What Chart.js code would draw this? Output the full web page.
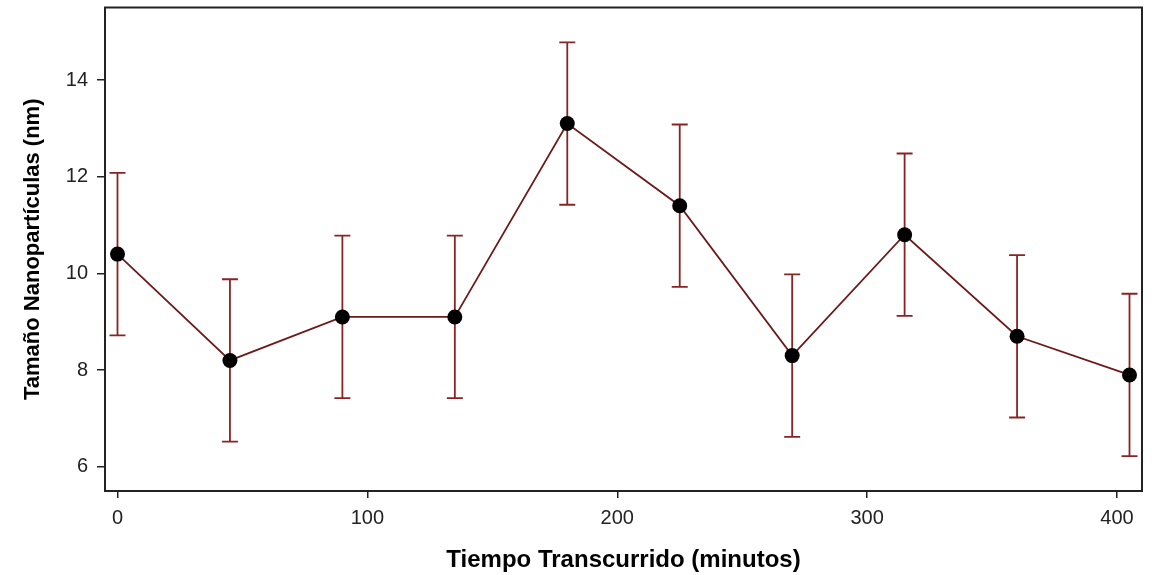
<!DOCTYPE html>
<html>
<head>
<meta charset="utf-8">
<script src="https://cdn.jsdelivr.net/npm/chart.js@4.4.1/dist/chart.umd.min.js"></script>
<style>
  html, body { margin: 0; padding: 0; background: #fff; }
  canvas { display: block; }
</style>
</head>
<body>
<canvas id="c" width="1152" height="575"></canvas>
<script>
// Elapsed time (minutes) and mean nanoparticle size (nm) with its error
const tiempos = [0, 45, 90, 135, 180, 225, 270, 315, 360, 405];
const tamanos = [10.4, 8.2, 9.1, 9.1, 13.1, 11.4, 8.3, 10.8, 8.7, 7.9];
const errores = [1.68, 1.68, 1.68, 1.68, 1.68, 1.68, 1.68, 1.68, 1.68, 1.68];
const xTicks = [0, 100, 200, 300, 400];
const yTicks = [6, 8, 10, 12, 14];

const FONT = '"Liberation Sans", Arial, Helvetica, sans-serif';
const LINE_COLOR = '#6e1a1a';
const ERR_COLOR = '#8a2424';

// Vertical error bars with caps, drawn under the points
const errorBars = {
  id: 'errorBars',
  beforeDatasetsDraw(chart) {
    const { ctx, scales: { x, y } } = chart;
    const cap = 8;
    ctx.save();
    ctx.strokeStyle = ERR_COLOR;
    ctx.lineWidth = 1.8;
    tiempos.forEach((t, i) => {
      const px = x.getPixelForValue(t);
      const top = y.getPixelForValue(tamanos[i] + errores[i]);
      const bot = y.getPixelForValue(tamanos[i] - errores[i]);
      ctx.beginPath();
      ctx.moveTo(px, top); ctx.lineTo(px, bot);
      ctx.moveTo(px - cap, top); ctx.lineTo(px + cap, top);
      ctx.moveTo(px - cap, bot); ctx.lineTo(px + cap, bot);
      ctx.stroke();
    });
    ctx.restore();
  }
};

// Frame around the plotting region
const frame = {
  id: 'frame',
  beforeDatasetsDraw(chart) {
    const { ctx, chartArea: a } = chart;
    ctx.save();
    ctx.strokeStyle = '#222';
    ctx.lineWidth = 2;
    ctx.strokeRect(a.left, a.top, a.right - a.left, a.bottom - a.top);
    ctx.restore();
  }
};

new Chart(document.getElementById('c'), {
  type: 'line',
  data: {
    datasets: [{
      data: tiempos.map((t, i) => ({ x: t, y: tamanos[i] })),
      borderColor: LINE_COLOR,
      borderWidth: 1.8,
      pointRadius: 7.5,
      pointBackgroundColor: '#000',
      pointBorderColor: '#000',
      pointBorderWidth: 0,
      tension: 0,
      fill: false
    }]
  },
  options: {
    responsive: false,
    animation: false,
    layout: { padding: { left: 20, top: 7, right: 10, bottom: 0 } },
    plugins: { legend: { display: false }, tooltip: { enabled: false } },
    scales: {
      x: {
        type: 'linear',
        min: -5,
        max: 410,
        afterBuildTicks(s) { s.ticks = xTicks.map(v => ({ value: v })); },
        afterFit(s) { s.height = 84; s.paddingLeft = 0; s.paddingRight = 0; },
        grid: { drawOnChartArea: false, drawTicks: true, tickLength: 7, color: '#222', lineWidth: 1.5 },
        border: { display: false },
        ticks: { font: { family: FONT, size: 20 }, color: '#222', padding: 8, maxRotation: 0 },
        title: {
          display: true,
          text: 'Tiempo Transcurrido (minutos)',
          font: { family: FONT, size: 24, weight: 'bold' },
          color: '#000',
          padding: 0
        }
      },
      y: {
        type: 'linear',
        min: 5.5,
        max: 15.5,
        afterBuildTicks(s) { s.ticks = yTicks.map(v => ({ value: v })); },
        afterFit(s) { s.width = 85; s.paddingTop = 0; s.paddingBottom = 0; },
        grid: { drawOnChartArea: false, drawTicks: true, tickLength: 8, color: '#222', lineWidth: 1.5 },
        border: { display: false },
        ticks: { font: { family: FONT, size: 20 }, color: '#222', padding: 9 },
        title: {
          display: true,
          text: 'Tamaño Nanopartículas (nm)',
          font: { family: FONT, size: 22, weight: 'bold' },
          color: '#000',
          padding: 0
        }
      }
    }
  },
  plugins: [errorBars, frame]
});
</script>
</body>
</html>
